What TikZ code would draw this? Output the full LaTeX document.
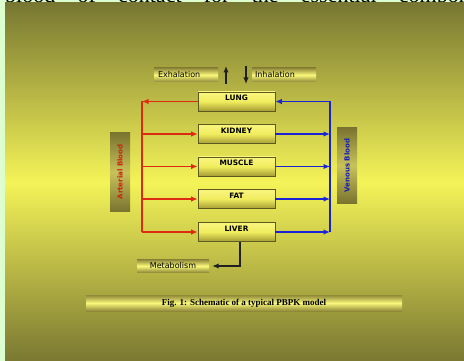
\documentclass[tikz,border=0pt]{standalone}
\usepackage{fontspec}
\setmainfont{Liberation Serif}
\newfontfamily\dv{DejaVu Sans}
\usetikzlibrary{arrows.meta}
\definecolor{bggreen}{HTML}{DDFFCF}
\definecolor{panelTop}{HTML}{787732}
\definecolor{panelMid}{HTML}{F4F358}
\definecolor{panelBot}{HTML}{7A7832}
\definecolor{boxedge}{HTML}{5C5A1E}
\definecolor{organTop}{HTML}{FAF67E}
\definecolor{organMid}{HTML}{F0EC5E}
\definecolor{organBot}{HTML}{A49C34}
\definecolor{bandEdge}{HTML}{8E8838}
\definecolor{bandMid}{HTML}{FAF87A}
\definecolor{vEdge}{HTML}{7A7430}
\definecolor{vMid}{HTML}{C8C25A}
\definecolor{artred}{HTML}{DD2A12}
\definecolor{venblue}{HTML}{1A22D8}
\definecolor{blk}{HTML}{202020}
\tikzset{
  organ/.style={draw=boxedge, line width=0.8pt, top color=organTop, bottom color=organBot, middle color=organMid,
    minimum width=77pt, minimum height=19pt, inner sep=0pt, font=\dv\bfseries\fontsize{7.4}{8}\selectfont,
    text height=5pt, text depth=6pt},
  band/.style={top color=bandEdge, bottom color=bandEdge, middle color=bandMid, inner sep=0pt,
    font=\dv\fontsize{8}{9}\selectfont, text height=6pt, text depth=1.5pt},
  vbox/.style={rotate=90, top color=vEdge, bottom color=vEdge, middle color=vMid, inner sep=0pt,
    minimum height=20pt, font=\dv\bfseries\fontsize{7}{8}\selectfont},
  art/.style={draw=artred, line width=1.2pt},
  ven/.style={draw=venblue, line width=1.2pt},
  blkline/.style={draw=blk, line width=1.3pt},
  tip/.style={-{Latex[length=6.5pt,width=5.5pt]}}
}
\begin{document}
\begin{tikzpicture}[x=1pt,y=-1pt]
\useasboundingbox (0,0) rectangle (464,361);
\fill[bggreen] (0,0) rectangle (464,361);
\node[anchor=base west, inner sep=0pt, font=\fontsize{22}{22}\selectfont] (toptext) at (5,2.5)
  {\hbox to 500pt{blood\hfill of\hfill contact\hfill for\hfill the\hfill essential\hfill components}};
\shade[top color=panelTop, bottom color=panelBot, middle color=panelMid] (5,3) rectangle (464,361);

% breathing
\node[band, minimum height=14pt, text width=56pt, inner xsep=4pt, align=left] (exh) at (186,75) {Exhalation};
\node[band, minimum height=14pt, text width=58pt, inner xsep=3pt, align=left] (inh) at (284,75) {Inhalation};
\coordinate (exB) at (226,84);
\coordinate (exT) at (226,66);
\coordinate (inT) at (246,66);
\coordinate (inB) at (246,84);
\draw[blkline, tip] (exB) -- (exT);
\draw[blkline, tip] (inT) -- (inB);

% organs
\node[organ] (lung)   at (236.5,101.5) {LUNG};
\node[organ] (kidney) at (236.5,134)   {KIDNEY};
\node[organ] (muscle) at (236.5,166.5) {MUSCLE};
\node[organ] (fat)    at (236.5,199)   {FAT};
\node[organ] (liver)  at (236.5,232)   {LIVER};

% side labels
\node[vbox, minimum width=78pt, text=artred!90!black] (artlab) at (120,172) {Arterial Blood};
\node[vbox, minimum width=75pt, text=venblue!85!black] (venlab) at (347,165.5) {Venous Blood};

% arterial
\coordinate (aX) at (142,0);
\coordinate (aTop) at (lung.west -| aX);
\coordinate (aBot) at (liver.west -| aX);
\draw[art, tip] (lung.west) -- (aTop);
\draw[art] (aTop) -- (aBot);
\foreach \o in {kidney,muscle,fat,liver}{
  \draw[art, tip] (aX |- \o.west) -- (\o.west);
}

% venous
\coordinate (vX) at (330,0);
\coordinate (vTop) at (lung.east -| vX);
\coordinate (vBot) at (liver.east -| vX);
\draw[ven] (vBot) -- (vTop);
\draw[ven, tip] (vTop) -- (lung.east);
\foreach \o in {kidney,muscle,fat,liver}{
  \draw[ven, tip] (\o.east) -- (vX |- \o.east);
}

% metabolism
\node[band, minimum width=72pt, minimum height=13pt] (metab) at (173,266) {Metabolism};
\coordinate (lvOut) at ([xshift=3.5pt]liver.south);
\draw[blkline, tip] (lvOut) |- ([xshift=3pt]metab.east);

% caption
\node[band, minimum width=316pt, minimum height=16pt, font=\bfseries\fontsize{9}{10}\selectfont] (cap) at (244,303)
  {Fig. 1: Schematic of a typical PBPK model};
\end{tikzpicture}
\end{document}
